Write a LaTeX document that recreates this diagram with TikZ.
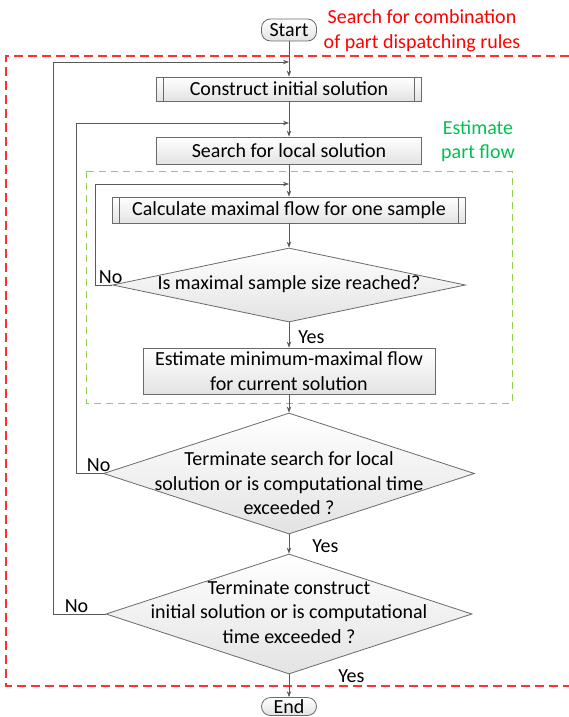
\documentclass[tikz,border=0pt]{standalone}
\usepackage{fontspec}
\setmainfont{Carlito}
\usetikzlibrary{shapes.geometric,arrows.meta,positioning}

\definecolor{linegray}{HTML}{595959}
\definecolor{boxgray}{HTML}{6A6A6A}
\definecolor{redline}{HTML}{FF3030}
\definecolor{greenline}{HTML}{92D050}
\definecolor{greentext}{HTML}{00C050}

% text of a decision, kept out of the size of the diamond
\newcommand{\dtext}[2][0pt]{\raisebox{\dimexpr#1-5pt\relax}[0pt][0pt]{\makebox[0pt]{\begin{tabular}{@{}c@{}}#2\end{tabular}}}}

\begin{document}
\begin{tikzpicture}[x=1pt,y=-1pt,font=\fontsize{20}{24.5}\selectfont,
	fillbox/.style={draw=boxgray,line width=0.8pt,top color=white,bottom color=gray!22,inner sep=0pt},
	box/.style={fillbox,align=center},
	subproc/.style={box,path picture={
		\draw[boxgray,line width=0.8pt] ([xshift=7pt]path picture bounding box.north west) -- ([xshift=7pt]path picture bounding box.south west);
		\draw[boxgray,line width=0.8pt] ([xshift=-7pt]path picture bounding box.north east) -- ([xshift=-7pt]path picture bounding box.south east);}},
	term/.style={box,rounded corners=9pt},
	decision/.style={fillbox,shape=diamond},
	flow/.style={draw=linegray,line width=0.8pt,-{Stealth[length=6pt,width=4.5pt]}},
	lbl/.style={inner sep=1pt}]
	
	\useasboundingbox (0,0) rectangle (569,717);
	
	% dashed frames
	\draw[redline,line width=1.4pt,dash pattern=on 9pt off 5pt] (569,56) -- (6,56) -- (6,686) -- (569,686);
	\draw[greenline,line width=1pt,dash pattern=on 7pt off 5pt] (86,171) rectangle (512,403);
	\node[text=red,align=center] (redlbl) at (422,31) {Search for combination\\of part dispatching rules};
	\node[text=greentext,align=center] (greenlbl) at (478,141) {Estimate\\part flow};
	
	% steps
	\node[term,minimum width=55pt,minimum height=22pt] (start) at (289,30) {Start};
	\node[subproc,minimum width=265pt,minimum height=24pt] (construct) at (289,89) {Construct initial solution};
	\node[box,minimum width=265pt,minimum height=27pt] (search) at (289,150.5) {Search for local solution};
	\node[subproc,minimum width=353pt,minimum height=26pt] (calc) at (289,210) {Calculate maximal flow for one sample};
	\node[decision,minimum width=353pt,minimum height=74pt] (d1) at (289,285) {\dtext{Is maximal sample size reached?}};
	\node[box,minimum width=292pt,minimum height=46pt] (estimate) at (289,371) {Estimate minimum-maximal flow\\for current solution};
	\node[decision,minimum width=371pt,minimum height=121pt] (d2) at (289,473.5) {\dtext[-12pt]{Terminate search for local\\solution or is computational time\\exceeded ?}};
	\node[decision,minimum width=366pt,minimum height=120pt] (d3) at (289,614) {\dtext{Terminate construct\\initial solution or is computational\\time exceeded ?}};
	\node[term,minimum width=55pt,minimum height=18pt] (end) at (289,706.5) {End};
	
	\coordinate (j1) at (289,62);
	\coordinate (j2) at (289,123);
	\coordinate (j3) at (289,184);
	
	% main line
	\draw[flow] (start) -- (construct);
	\draw[flow] (construct) -- (search);
	\draw[flow] (search) -- (calc);
	\draw[flow] (calc) -- (d1);
	\draw[flow] (d1.south) -- node[right=8pt,lbl,pos=0.6] {Yes} (estimate);
	\draw[flow] (estimate) -- (d2.north);
	\draw[flow] (d2.south) -- node[right=22pt,lbl,pos=0.6] {Yes} (d3.north);
	\draw[flow] (d3.south) -- node[right=48pt,lbl,pos=0.08] {Yes} (end);
	
	% loops back
	\draw[flow] (d1.west) -- node[above,lbl,pos=0.09] {No} ++(-16.5,0) |- (j3);
	\draw[flow] (d2.west) -- node[above,lbl,pos=0.17] {No} ++(-26.5,0) |- (j2);
	\draw[flow] (d3.west) -- node[above,lbl,pos=0.56] {No} ++(-52,0) |- (j1);
	
\end{tikzpicture}
\end{document}
